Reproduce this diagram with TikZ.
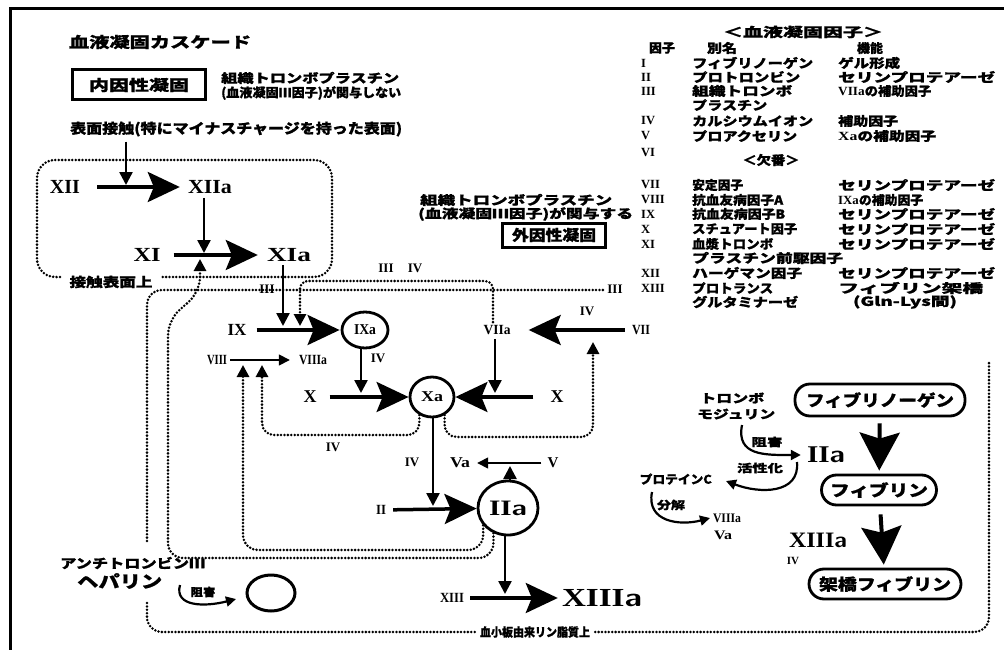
\documentclass[tikz,border=0pt]{standalone}
\usepackage{fontspec}
\usepackage{graphicx}
\setmainfont{Liberation Serif}
\newfontfamily\jp{Noto Sans CJK JP}[BoldFeatures={FakeBold=1}]
\usetikzlibrary{arrows.meta,shapes.geometric}
\newcommand\T[2]{\resizebox{#1pt}{\height}{#2}}
\newcommand\trow[7]{%
  \node[rn=12.5,anchor=west] (num#1) at (641,#2) {#3};
  \node[jt=12.5,anchor=west] (nam#1) at (692,#2) {\T{#4}{#5}};
  \node[jt=12.5,anchor=west] (fun#1) at (838,#2) {\T{#6}{#7}};}
\begin{document}
\begin{tikzpicture}[x=1pt,y=-1pt,
  every node/.style={inner sep=0pt},
  jt/.style={font=\jp\bfseries\fontsize{#1}{#1}\selectfont}, jt/.default=13,
  rn/.style={font=\bfseries\fontsize{#1}{#1}\selectfont}, rn/.default=15,
  oval/.style={draw,ellipse,line width=2.8pt,inner sep=0pt},
  pill/.style={draw,rounded corners=15pt,line width=2.8pt},
  bigarrow/.style={line width=3.5pt,-{Stealth[length=32pt,width=30pt,inset=6pt]}},
  bigv/.style={line width=4pt,-{Stealth[length=38pt,width=40pt,inset=6pt]}},
  midarrow/.style={line width=2.5pt,-{Triangle[length=13pt,width=13pt]}},
  thinarrow/.style={line width=1.5pt,-{Triangle[length=11pt,width=11pt]}},
  dotline/.style={line width=2.8pt,dash pattern=on 0pt off 3.4pt,line cap=round},
  dotarrow/.style={dotline,-{Triangle[length=12pt,width=12pt]}},
  curvarrow/.style={line width=2.2pt,-{Triangle[length=10pt,width=10pt]}}]
\useasboundingbox (0,0) rectangle (1004,650);
\draw[line width=3pt] (10,650) -- (10,9) -- (1004,9);

% ---------- top left texts
\node[jt=15] (title) at (160,42) {\T{182}{血液凝固カスケード}};
\node[draw,line width=3pt,minimum width=133pt,minimum height=30pt,jt=15] (intr) at (139,85) {\T{100}{内因性凝固}};
\node[jt=12.5,anchor=west] (n1a) at (221,78) {\T{178}{組織トロンボプラスチン}};
\node[jt=12.5,anchor=west] (n1b) at (221,93) {\T{180}{(血液凝固Ⅲ因子)が関与しない}};
\node[jt=14,anchor=west] (surf) at (70,129) {\T{332}{表面接触(特にマイナスチャージを持った表面)}};

% ---------- contact surface box
\draw[dotline,rounded corners=18pt] (60,277) -| (37,160) -| (332,277) -- (160,277);
\node[jt=13] (ctxt) at (111,282) {\T{83}{接触表面上}};

\node[rn=20] (XII) at (65,187) {XII};
\node[rn=20] (XIIa) at (210,187) {\T{44}{XIIa}};
\node[rn=20] (XI) at (147,255) {\T{27}{XI}};
\node[rn=20] (XIa) at (289,255) {\T{44}{XIa}};
\draw[bigarrow,shorten <=17pt,shorten >=8pt] (XII) -- (XIIa);
\draw[bigarrow,shorten <=13pt,shorten >=9pt] (XI) -- (XIa);
\coordinate (c1) at (126,185);
\draw[midarrow] ([yshift=-5pt]surf.south -| c1) -- (c1);
\coordinate (c2) at (204,253);
\draw[midarrow] ([yshift=-4pt]XIIa.south -| c2) -- (c2);

% ---------- extrinsic note
\node[jt=12.5,anchor=west] (n2a) at (420,200) {\T{192}{組織トロンボプラスチン}};
\node[jt=12.5,anchor=west] (n2b) at (418,214) {\T{215}{(血液凝固Ⅲ因子)が関与する}};
\node[draw,line width=3pt,minimum width=103pt,minimum height=24pt,jt=15] (extr) at (554,235) {\T{84}{外因性凝固}};

% ---------- big dotted boundary (platelet phospholipid)
\node[jt=12] (plt) at (535,632) {\T{110}{血小板由来リン脂質上}};
\draw[dotline,rounded corners=15pt] (147,541) |- (605,290);
\draw[dotline,rounded corners=15pt] (147,603) |- ([xshift=-5pt]plt.west);
\draw[dotline,rounded corners=15pt] ([xshift=5pt]plt.east) -| (989,360);

% ---------- cascade nodes
\node[rn=13] (lIII1) at (267,289) {III};
\node[rn=13] (lIII2) at (386,268) {III};
\node[rn=13] (lIV1) at (415,268) {IV};
\node[rn=13] (lIII3) at (615,289) {III};

\node[rn=17] (IX) at (237,330) {IX};
\node[oval,minimum width=46pt,minimum height=36pt] (IXa) at (365,330) {\fontsize{15}{15}\selectfont\bfseries\T{22}{IXa}};
\node[rn=14] (VIII) at (217,360) {\T{20}{VIII}};
\node[rn=14] (VIIIa) at (313,360) {\T{28}{VIIIa}};
\node[rn=18] (XL) at (310,397) {X};
\node[oval,minimum width=44pt,minimum height=40pt] (Xa) at (432,397) {\fontsize{15}{15}\selectfont\bfseries\T{22}{Xa}};
\node[rn=18] (XR) at (557,397) {X};
\node[rn=14] (VIIa) at (497,330) {\T{27}{VIIa}};
\node[rn=14] (VII) at (641,330) {\T{18}{VII}};
\node[rn=13] (lIV2) at (378,358) {IV};
\node[rn=13] (lIV3) at (587,311) {IV};
\node[rn=13] (lIV4) at (333,447) {IV};
\node[rn=13] (lIV5) at (412,462) {IV};
\node[rn=14] (II) at (381,510) {\T{10}{II}};
\node[oval,minimum width=60pt,minimum height=54pt] (IIa) at (508,508) {\fontsize{22}{22}\selectfont\bfseries\T{38}{II{\sffamily a}}};
\node[rn=15] (V) at (553,463) {V};
\node[rn=15] (Va) at (460,463) {\T{20}{Va}};
\node[rn=14] (XIII) at (452,598) {\T{24}{XIII}};
\node[rn=26] (XIIIa) at (602,598) {\T{80}{XIII{\sffamily a}}};

\draw[bigarrow,shorten <=10pt,shorten >=1pt] (IX) -- (IXa);
\draw[bigarrow,shorten <=13pt] (XL) -- (Xa);
\draw[bigarrow,shorten <=17pt] (XR) -- (Xa);
\draw[bigarrow,shorten <=7pt,shorten >=18pt] (VII) -- (VIIa);
\draw[bigarrow,shorten <=7pt] (II) -- (IIa);
\draw[bigarrow,shorten <=6pt,shorten >=4pt] (XIII) -- (XIIIa);
\draw[thinarrow,shorten <=3pt,shorten >=9pt] (VIII) -- (VIIIa);
\draw[thinarrow,shorten <=6pt,shorten >=7pt] (V) -- (Va);

\coordinate (c3) at (283,326);
\draw[midarrow] ([yshift=-3pt]XIa.south -| c3) -- (c3);
\coordinate (c4) at (361,393);
\draw[midarrow] (IXa.south -| c4) -- (c4);
\coordinate (c5) at (495,393);
\draw[midarrow] ([yshift=-4pt]VIIa.south -| c5) -- (c5);
\coordinate (c7) at (433,506);
\draw[midarrow] (Xa.south -| c7) -- (c7);
\coordinate (c8) at (510,466);
\draw[midarrow] (IIa.north -| c8) -- (c8);
\coordinate (c9) at (505,594);
\draw[midarrow] (IIa.south -| c9) -- (c9);

% dotted feedback paths
\coordinate (c6) at (300,326);
\draw[dotarrow,rounded corners=8pt] ([yshift=3pt]VIIa.north -| 493,0) |- (300,281) -- (c6);
\coordinate (c10) at (200,259);
\draw[dotarrow,rounded corners=15pt] (IIa.240) |- (168,558) -- (168,320) -- (200,292) -- (c10);
\coordinate (c11) at (243,365);
\draw[dotarrow,rounded corners=15pt] (IIa.215) |- (243,550) -- (c11);
\coordinate (c12) at (262,365);
\draw[dotarrow,rounded corners=12pt] (Xa.235) |- (262,435) -- (c12);
\coordinate (c13) at (593,342);
\draw[dotarrow,rounded corners=12pt] (Xa.-55) |- (593,437) -- (c13);

% ---------- table
\node[jt=13] (thead) at (803,32) {\T{160}{＜血液凝固因子＞}};
\node[jt=12.5] (hA) at (662,48) {\T{26}{因子}};
\node[jt=12.5] (hB) at (722,48) {\T{30}{別名}};
\node[jt=12.5] (hC) at (870,48) {\T{26}{機能}};
\trow{1}{63}{I}{121}{フィブリノーゲン}{62}{ゲル形成}
\trow{2}{77}{II}{108}{プロトロンビン}{157}{セリンプロテアーゼ}
\trow{3}{91}{III}{100}{組織トロンボ}{93}{{\rmfamily VIIa}の補助因子}
\node[jt=12.5,anchor=west] (nam3b) at (692,105) {\T{75}{プラスチン}};
\trow{4}{121}{IV}{121}{カルシウムイオン}{60}{補助因子}
\trow{5}{136}{V}{105}{プロアクセリン}{98}{{\rmfamily Xa}の補助因子}
\node[rn=12.5,anchor=west] (num6) at (641,153) {VI};
\node[jt=12.5] (nam6) at (771,160) {\T{57}{＜欠番＞}};
\trow{7}{185}{VII}{51}{安定因子}{157}{セリンプロテアーゼ}
\trow{8}{200}{VIII}{91}{抗血友病因子A}{85}{{\rmfamily IXa}の補助因子}
\trow{9}{214}{IX}{93}{抗血友病因子B}{157}{セリンプロテアーゼ}
\trow{10}{229}{X}{105}{スチュアート因子}{157}{セリンプロテアーゼ}
\trow{11}{244}{XI}{81}{血漿トロンボ}{157}{セリンプロテアーゼ}
\node[jt=12.5,anchor=west] (nam11b) at (692,258) {\T{151}{プラスチン前駆因子}};
\trow{12}{273}{XII}{110}{ハーゲマン因子}{157}{セリンプロテアーゼ}
\trow{13}{288}{XIII}{81}{プロトランス}{145}{フィブリン架橋}
\node[jt=12.5,anchor=west] (nam13b) at (692,302) {\T{106}{グルタミナーゼ}};
\node[jt=12.5] (fun13b) at (905,302) {\T{104}{(Gln-Lys間)}};

% ---------- right panel: fibrin formation
\node[pill,minimum width=170pt,minimum height=32pt,jt=16] (fbg) at (880,400) {\T{148}{フィブリノーゲン}};
\node[pill,minimum width=115pt,minimum height=30pt,jt=16] (fib) at (879,490) {\T{98}{フィブリン}};
\node[pill,minimum width=152pt,minimum height=30pt,jt=16] (xfib) at (885,584) {\T{132}{架橋フィブリン}};
\draw[bigv,shorten <=6pt,shorten >=3pt] (fbg) -- (fib);
\draw[bigv,shorten <=8pt,shorten >=3pt] (fib) -- (xfib);
\node[rn=24] (lIIa) at (826,455) {\T{38}{II{\sffamily a}}};
\node[rn=22] (lXIIIa) at (818,540) {\T{58}{XIII{\sffamily a}}};
\node[rn=11] (lIV6) at (793,561) {IV};

% thrombomodulin / protein C
\node[jt=12,anchor=west] (tm1) at (700,398) {\T{64}{トロンボ}};
\node[jt=12,anchor=west] (tm2) at (697,414) {\T{78}{モジュリン}};
\draw[curvarrow] (742,425) .. controls (736,456) and (765,455) .. ([xshift=-6pt]lIIa.west);
\node[jt=11] (inh1) at (767,442) {\T{31}{阻害}};
\draw[curvarrow] (797,462) .. controls (800,494) and (760,494) .. (726,481);
\node[jt=11] (act) at (760,468) {\T{46}{活性化}};
\node[jt=12,anchor=east] (pc) at (712,479) {\T{72}{プロテインC}};
\node[jt=11] (deg) at (671,505) {\T{28}{分解}};
\draw[curvarrow] (652,492) .. controls (646,522) and (680,526) .. (710,518);
\node[rn=13] (VIIIa2) at (727,518) {\T{28}{VIIIa}};
\node[rn=13] (Va2) at (723,535) {\T{18}{Va}};

% ---------- antithrombin / heparin
\node[jt=13,anchor=west] (at3) at (60,563) {\T{145}{アンチトロンビンⅢ}};
\node[jt=17,anchor=west] (hep) at (77,581) {\T{85}{ヘパリン}};
\draw[curvarrow] (180,585) .. controls (174,607) and (205,607) .. (236,599);
\node[jt=11] (inh2) at (203,592) {\T{25}{阻害}};
\node[draw,ellipse,line width=3pt,minimum width=48pt,minimum height=36pt] (ring) at (271,593) {};
\end{tikzpicture}
\end{document}
